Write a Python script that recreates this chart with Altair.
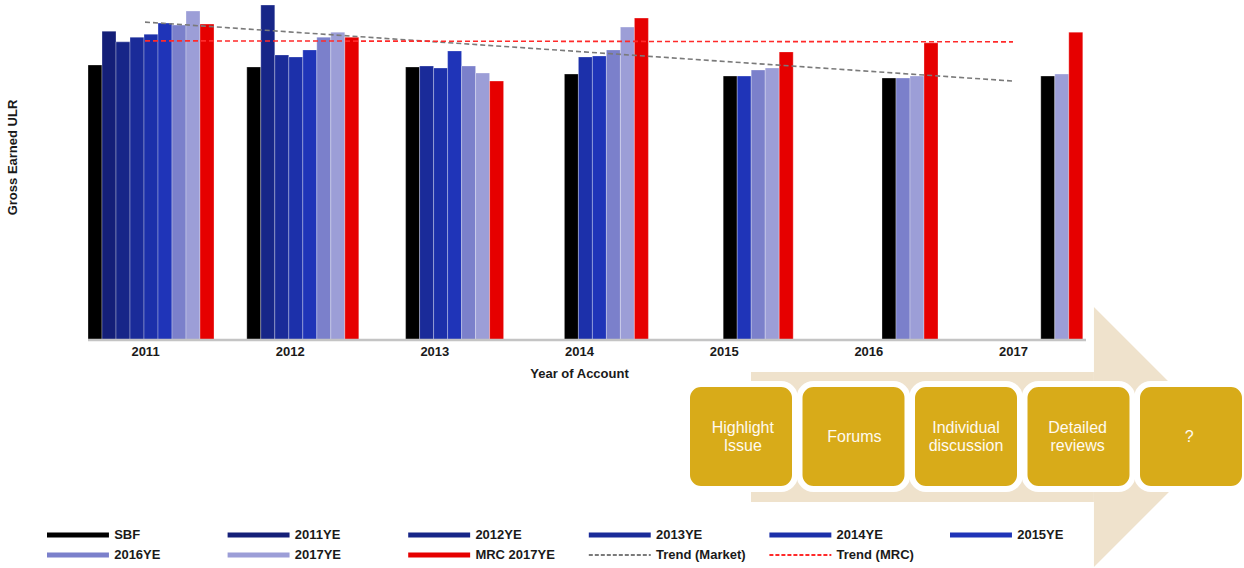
import altair as alt
import pandas as pd

# ---------------- data ----------------
years = ["2011", "2012", "2013", "2014", "2015", "2016", "2017"]
series = ["SBF", "2011YE", "2012YE", "2013YE", "2014YE", "2015YE", "2016YE", "2017YE", "MRC 2017YE"]

sbf    = [82.1, 81.5, 81.5, 79.4, 78.8, 78.2, 78.8]
ye2011 = [92.2, None, None, None, None, None, None]
ye2012 = [89.0, 100.0, None, None, None, None, None]
ye2013 = [90.4, 85.1, 81.8, None, None, None, None]
ye2014 = [91.3, 84.5, 81.2, 84.5, None, None, None]
ye2015 = [94.6, 86.6, 86.3, 84.8, 78.8, None, None]
ye2016 = [94.0, 90.4, 81.8, 86.6, 80.6, 78.2, None]
ye2017 = [98.2, 91.9, 79.7, 93.4, 81.2, 78.8, 79.4]
mrc    = [94.3, 90.4, 77.3, 96.1, 86.0, 88.7, 91.9]

trend_names = ["Trend (Market)", "Trend (MRC)"]
trend_years = ["2011", "2017"]
trend_market = [94.9, 77.3]
trend_mrc = [89.3, 89.0]

legend_names = series + trend_names
colors = ["#000000", "#141F78", "#172688", "#1A2B99", "#1C30AA", "#1F34B8",
          "#7B80CB", "#9C9ED7", "#E60000", "#7A7A7A", "#FF2A2A"]

steps = ["Highlight\nIssue", "Forums", "Individual\ndiscussion", "Detailed\nreviews", "?"]

# arrow outline (diagram units): shaft rectangle and head triangle
shaft_x = [0, 72.5]
shaft_y = [-50, 50]
head_x = [72.5, 100]
head_hi = [100, 0]
head_lo = [-100, 0]

FONT = "Liberation Sans"

# ---------------- tables ----------------
values_by_series = [sbf, ye2011, ye2012, ye2013, ye2014, ye2015, ye2016, ye2017, mrc]
rows = []
for yi, yr in enumerate(years):
    slot = 0
    for s, vals in zip(series, values_by_series):
        v = vals[yi]
        if v is not None:
            rows.append({"year": yr, "series": s, "ulr": v, "slot": slot})
            slot += 1
bar_df = pd.DataFrame(rows)

trend_rows = []
for name, vals in zip(trend_names, [trend_market, trend_mrc]):
    for yr, v in zip(trend_years, vals):
        trend_rows.append({"year": yr, "series": name, "val": v})
trend_df = pd.DataFrame(trend_rows)

legend_df = pd.DataFrame({
    "series": legend_names,
    "col": [i % 6 for i in range(len(legend_names))],
    "row": [i // 6 for i in range(len(legend_names))],
    "dashed": [n in trend_names for n in legend_names],
})

shaft_df = pd.DataFrame({"x0": [shaft_x[0]], "x1": [shaft_x[1]], "y0": [shaft_y[0]], "y1": [shaft_y[1]]})
head_df = pd.DataFrame({"hx": head_x, "hi": head_hi, "lo": head_lo})
steps_df = pd.DataFrame({"step": list(range(len(steps))), "label": steps, "band": ["b"] * len(steps),
                         "multi": ["\n" in s for s in steps]})

color_scale = alt.Scale(domain=legend_names, range=colors)
yscale = alt.Scale(domain=[0, 100], nice=False, zero=True)

# ---------------- layers ----------------
ax_scale = alt.Scale(domain=[0, 100], range=[663, 1136], nice=False, zero=False)
ay_scale = alt.Scale(domain=[-100, 100], range=[562, 302], nice=False, zero=False)
ARROW = "#EFE2CC"

shaft = alt.Chart(shaft_df).mark_rect(color=ARROW).encode(
    x=alt.X("x0:Q", scale=ax_scale, axis=None), x2="x1:Q",
    y=alt.Y("y0:Q", scale=ay_scale, axis=None), y2="y1:Q",
)
head = alt.Chart(head_df).mark_area(color=ARROW).encode(
    x=alt.X("hx:Q", scale=ax_scale, axis=None),
    y=alt.Y("hi:Q", scale=ay_scale, axis=None),
    y2="lo:Q",
)

box_x = alt.X("step:O", scale=alt.Scale(domain=list(range(len(steps))), range=[599, 1157],
                                        paddingInner=0.04, paddingOuter=0), axis=None)
box_y = alt.Y("band:N", scale=alt.Scale(domain=["b"], range=[379, 484], paddingInner=0, paddingOuter=0), axis=None)

boxes = alt.Chart(steps_df).mark_rect(
    color="#D8AB19", stroke="white", strokeWidth=6, cornerRadius=14
).encode(x=box_x, y=box_y)

text_props = dict(font=FONT, fontSize=16, color="#FFFAF0", lineBreak="\n", lineHeight=18, baseline="middle")
box_text1 = alt.Chart(steps_df).transform_filter("datum.multi").mark_text(dy=-9, **text_props).encode(
    x=box_x, y=box_y, text="label:N")
box_text2 = alt.Chart(steps_df).transform_filter("!datum.multi").mark_text(**text_props).encode(
    x=box_x, y=box_y, text="label:N")

bars = alt.Chart(bar_df).mark_bar(stroke="white", strokeWidth=0.6, strokeOpacity=0.5).encode(
    x=alt.X("year:N", scale=alt.Scale(domain=years, range=[0, 1078.8], paddingInner=0.2065, paddingOuter=0), axis=None),
    xOffset=alt.XOffset("slot:O", scale=alt.Scale(domain=list(range(9)), paddingInner=0, paddingOuter=0)),
    y=alt.Y("ulr:Q", scale=yscale, axis=alt.Axis(
        labels=False, ticks=False, domain=False, grid=False,
        title="Gross Earned ULR", titleFont=FONT, titleFontSize=13, titleFontWeight="bold",
        titleColor="#1A1A1A", titleX=-76, titleY=152, titleAlign="center", titleBaseline="middle",
    )),
    color=alt.Color("series:N", scale=color_scale, legend=None),
)

baseline = alt.Chart(pd.DataFrame({"v": [0]})).mark_rule(color="#C4C4C4", strokeWidth=2.5).encode(
    y=alt.Y("v:Q", scale=yscale, axis=None)
)

trend = alt.Chart(trend_df).mark_line(strokeDash=[5, 3], strokeWidth=1.6).encode(
    x=alt.X("year:O", scale=alt.Scale(type="point", domain=years, range=[57, 925], padding=0),
            axis=alt.Axis(domain=False, ticks=False, tickSize=0, grid=False, labelAngle=0,
                          labelFont=FONT, labelFontSize=13, labelFontWeight="bold", labelColor="#1A1A1A",
                          labelPadding=5, title="Year of Account", titleFont=FONT, titleFontSize=13,
                          titleFontWeight="bold", titleColor="#1A1A1A", titlePadding=9)),
    y=alt.Y("val:Q", scale=yscale, axis=None),
    color=alt.Color("series:N", scale=color_scale, legend=None),
    detail="series:N",
)

leg_x = alt.Scale(domain=[0, 5], range=[-41, 862], nice=False, zero=False)
leg_y = alt.Scale(domain=[0, 1], range=[530, 550], nice=False, zero=False)

leg_base = alt.Chart(legend_df).transform_calculate(
    x2="datum.col + 0.343", tx="datum.col + 0.372"
)
leg_solid = leg_base.transform_filter("!datum.dashed").mark_rule(strokeWidth=5).encode(
    x=alt.X("col:Q", scale=leg_x, axis=None), x2="x2:Q",
    y=alt.Y("row:Q", scale=leg_y, axis=None),
    color=alt.Color("series:N", scale=color_scale, legend=None),
)
leg_dash = leg_base.transform_filter("datum.dashed").mark_rule(strokeWidth=2, strokeDash=[4, 2]).encode(
    x=alt.X("col:Q", scale=leg_x, axis=None), x2="x2:Q",
    y=alt.Y("row:Q", scale=leg_y, axis=None),
    color=alt.Color("series:N", scale=color_scale, legend=None),
)
leg_text = leg_base.mark_text(
    font=FONT, fontSize=13, fontWeight="bold", align="left", baseline="middle", color="#1A1A1A"
).encode(
    x=alt.X("tx:Q", scale=leg_x, axis=None),
    y=alt.Y("row:Q", scale=leg_y, axis=None),
    text="series:N",
)

chart = alt.layer(
    shaft, head, boxes, box_text1, box_text2, bars, baseline, trend, leg_solid, leg_dash, leg_text
).resolve_scale(
    x="independent", y="independent"
).properties(
    width=998, height=335,
    padding={"left": 88, "top": 5, "right": 158, "bottom": 228},
    autosize=alt.AutoSizeParams(type="none"),
).configure_view(stroke=None)

chart.save("out.html", embed_options={"renderer": "svg", "actions": False})
